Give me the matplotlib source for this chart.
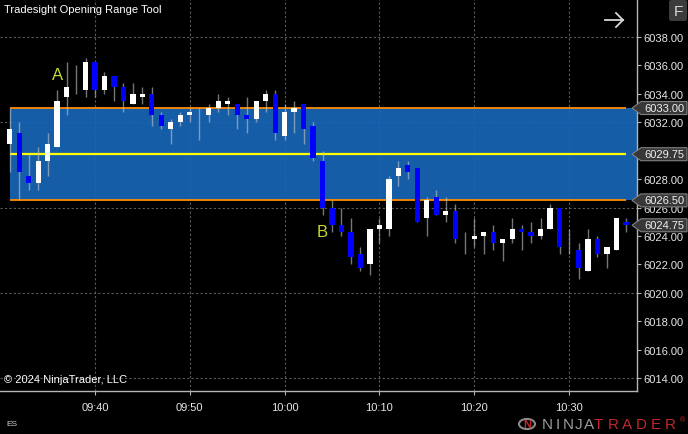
import matplotlib
matplotlib.use("Agg")
import matplotlib.pyplot as plt
import matplotlib.transforms as mtransforms
from matplotlib.patches import Polygon, Rectangle, FancyBboxPatch, Circle
from matplotlib.lines import Line2D

plt.rcParams["font.family"] = ["Liberation Sans", "DejaVu Sans"]

# 1-minute ES bars, x = minutes after 09:30
minutes = list(range(1, 67))
opens = [6030.5, 6031.25, 6028.25, 6027.75, 6029.25, 6030.25, 6033.75, 6035.0, 6034.25, 6036.25,
         6034.25, 6035.25, 6034.5, 6033.25, 6033.75, 6034.0, 6032.5, 6031.5, 6032.0, 6032.5,
         6032.75, 6032.5, 6033.0, 6033.25, 6033.25, 6032.5, 6032.25, 6033.5, 6034.0, 6031.0,
         6032.75, 6033.25, 6031.75, 6029.25, 6026.0, 6024.75, 6024.25, 6022.75, 6022.0, 6024.5,
         6024.5, 6028.25, 6029.0, 6028.75, 6025.25, 6026.75, 6025.5, 6025.75, 6023.75, 6023.75,
         6024.0, 6024.25, 6023.5, 6023.75, 6024.5, 6024.25, 6024.0, 6024.5, 6026.0, 6023.5,
         6023.0, 6021.5, 6023.75, 6022.75, 6023.0, 6025.0]
highs = [6033.0, 6032.0, 6029.75, 6030.25, 6031.25, 6034.25, 6036.25, 6036.0, 6036.5, 6036.25,
         6035.5, 6035.25, 6034.75, 6034.75, 6034.5, 6034.5, 6032.75, 6032.25, 6032.75, 6033.0,
         6033.0, 6033.25, 6034.0, 6033.75, 6033.25, 6033.75, 6033.5, 6034.25, 6034.25, 6033.25,
         6033.5, 6033.25, 6032.0, 6030.0, 6026.5, 6026.0, 6025.25, 6023.25, 6024.5, 6025.25,
         6028.25, 6029.25, 6029.25, 6028.75, 6026.75, 6027.25, 6026.75, 6026.25, 6024.25, 6025.25,
         6024.25, 6024.75, 6023.75, 6025.25, 6024.75, 6025.0, 6025.25, 6026.25, 6026.0, 6024.5,
         6023.5, 6024.5, 6024.0, 6023.25, 6025.25, 6025.25]
lows = [6028.5, 6026.5, 6027.25, 6027.25, 6028.25, 6030.25, 6032.5, 6034.0, 6033.75, 6033.75,
        6034.0, 6033.5, 6032.75, 6033.25, 6033.25, 6031.75, 6031.5, 6030.5, 6031.75, 6032.0,
        6030.75, 6032.0, 6032.75, 6032.5, 6031.5, 6031.25, 6032.0, 6032.75, 6030.75, 6030.75,
        6031.25, 6030.5, 6029.25, 6025.5, 6024.25, 6024.0, 6022.0, 6021.5, 6021.25, 6023.5,
        6024.0, 6027.5, 6028.0, 6025.0, 6024.0, 6025.5, 6025.0, 6023.5, 6022.75, 6023.25,
        6022.75, 6023.0, 6022.25, 6023.5, 6023.0, 6023.5, 6023.75, 6024.5, 6022.75, 6022.75,
        6021.0, 6021.5, 6022.5, 6021.75, 6023.0, 6024.25]
closes = [6031.5, 6028.5, 6027.75, 6029.25, 6030.5, 6033.5, 6034.5, 6035.0, 6036.25, 6034.25,
          6035.25, 6034.5, 6033.5, 6034.0, 6034.0, 6032.5, 6031.75, 6032.0, 6032.5, 6032.75,
          6032.75, 6033.0, 6033.5, 6033.5, 6032.5, 6032.25, 6033.5, 6034.0, 6031.25, 6032.75,
          6033.0, 6031.5, 6029.5, 6026.0, 6024.75, 6024.25, 6022.5, 6021.75, 6024.5, 6024.75,
          6028.0, 6028.75, 6028.5, 6025.0, 6026.5, 6025.5, 6025.75, 6023.75, 6023.75, 6024.0,
          6024.25, 6023.5, 6023.75, 6024.5, 6024.25, 6024.0, 6024.5, 6026.0, 6023.25, 6023.5,
          6021.75, 6023.75, 6022.75, 6023.25, 6025.25, 6024.75]

or_high = 6033.0
or_low = 6026.5
or_mid = 6029.75
tag_prices = [or_high, or_mid, or_low, closes[-1]]

price_ticks = list(range(6014, 6039, 2))
hidden_ticks = [6030]   # fully covered by the mid-line tag
grid_prices = [6014, 6020, 6026, 6032, 6038]
time_ticks = [10, 20, 30, 40, 50, 60]
time_labels = ["09:40", "09:50", "10:00", "10:10", "10:20", "10:30"]

W, H = 688, 435
fig = plt.figure(figsize=(W / 100, H / 100), dpi=100, facecolor="black")
ax = fig.add_axes([0, 43 / H, 637 / W, 392 / H])
ax.set_facecolor("black")
ax.set_xlim(-0.02, 67.17)
ax.set_ylim(6013.09, 6040.67)

for s in ["top", "left"]:
    ax.spines[s].set_visible(False)
for s in ["right", "bottom"]:
    ax.spines[s].set_color("#b4b4b4")
    ax.spines[s].set_linewidth(1)

ax.yaxis.tick_right()
ax.set_yticks(price_ticks)
ax.set_yticklabels(["" if p in hidden_ticks else f"{p:.2f}" for p in price_ticks])
ax.set_xticks(time_ticks)
ax.set_xticklabels(time_labels)
ax.tick_params(colors="#b4b4b4", labelcolor="#e6e6e6", labelsize=8, length=3.2, width=0.8)
ax.tick_params(axis="y", pad=1.5)
ax.tick_params(axis="x", pad=5)

# dotted grid
ax.vlines(time_ticks, *ax.get_ylim(), color="#5a5a5a", lw=0.8, linestyles=(0, (2, 2)), zorder=0.5)
ax.hlines(grid_prices, *ax.get_xlim(), color="#5a5a5a", lw=0.8, linestyles=(0, (2, 2)), zorder=0.5)

# opening range box
x_end = ax.get_xlim()[1]
ax.add_patch(Rectangle((minutes[0], or_low), x_end - minutes[0], or_high - or_low,
                       facecolor="#1866b8", alpha=0.92, lw=0, zorder=1))
ax.hlines([or_high, or_low], minutes[0], minutes[-1], color="#ff8c00", lw=1.3, zorder=2)
ax.hlines(or_mid, minutes[0], minutes[-1], color="#ffff00", lw=1.6, zorder=2)

# candles
ax.vlines(minutes, lows, highs, color="#c4c4c4", alpha=0.6, lw=1, zorder=3)
bottoms = [min(o, c) for o, c in zip(opens, closes)]
heights = [abs(c - o) for o, c in zip(opens, closes)]
colors = ["white" if c >= o else "#0000ff" for o, c in zip(opens, closes)]
ax.bar(minutes, heights, bottom=bottoms, width=0.55, color=colors, lw=0, zorder=4)

ax.text(minutes[5], highs[5] + 1.1, "A", color="#c8d82a", fontsize=12, ha="center", va="center", zorder=5)
ax.text(minutes[33], lows[33] - 1.2, "B", color="#c8d82a", fontsize=12, ha="center", va="center", zorder=5)

# price tags on the right axis
trans = mtransforms.blended_transform_factory(fig.transFigure, ax.transData)
hh = 6.5 / 14.21
for p in tag_prices:
    pts = [(632 / W, p), (641 / W, p + hh), (687 / W, p + hh), (687 / W, p - hh), (641 / W, p - hh)]
    fig.add_artist(Polygon(pts, closed=True, transform=trans, facecolor="#383838",
                           edgecolor="#808080", lw=0.8, zorder=5))
    fig.text(644 / W, p, f"{p:.2f}", transform=trans, color="#f0f0f0", fontsize=8,
             ha="left", va="center", zorder=6)

def fx(px):
    return px / W

def fy(py):
    return 1 - py / H

fig.text(fx(4), fy(10), "Tradesight Opening Range Tool", color="white", fontsize=8, va="center")
fig.text(fx(4), fy(380), "\u00a9 2024 NinjaTrader, LLC", color="white", fontsize=8, va="center")
fig.text(fx(6), fy(425), "ES", color="#d0d0d0", fontsize=6, va="center")

# arrow and F button top right
for xs, ys in [([605, 623], [21, 21]), ([616, 623], [14, 21]), ([616, 623], [28, 21])]:
    fig.add_artist(Line2D([fx(v) for v in xs], [fy(v) for v in ys], color="#d8d8d8", lw=1.3))
fig.add_artist(FancyBboxPatch((fx(669), fy(22)), fx(18), 21 / H, boxstyle="round,pad=0,rounding_size=0.004",
                              transform=fig.transFigure, facecolor="#3c3c3c", edgecolor="none"))
fig.text(fx(678), fy(12), "F", color="#d8d8d8", fontsize=11, ha="center", va="center")

# NinjaTrader logo
fig.add_artist(Circle((fx(527), fy(425)), 8 / W, transform=fig.transFigure, facecolor="none",
                      edgecolor="#8a8a8a", lw=1.5))
fig.text(fx(527), fy(425), "N", color="#c0282d", fontsize=8, ha="center", va="center", fontweight="bold")
for i, ch in enumerate("NINJA"):
    fig.text(fx(547 + 10.5 * i), fy(425), ch, color="#9a9a9a", fontsize=11, ha="center", va="center")
for i, ch in enumerate("TRADER"):
    fig.text(fx(598.5 + 14.3 * i), fy(425), ch, color="#c0282d", fontsize=11, ha="center", va="center")
fig.text(fx(682), fy(421), "\u00ae", color="#c0282d", fontsize=5, ha="center", va="center")

fig.savefig("out.png", dpi=100, facecolor="black")
